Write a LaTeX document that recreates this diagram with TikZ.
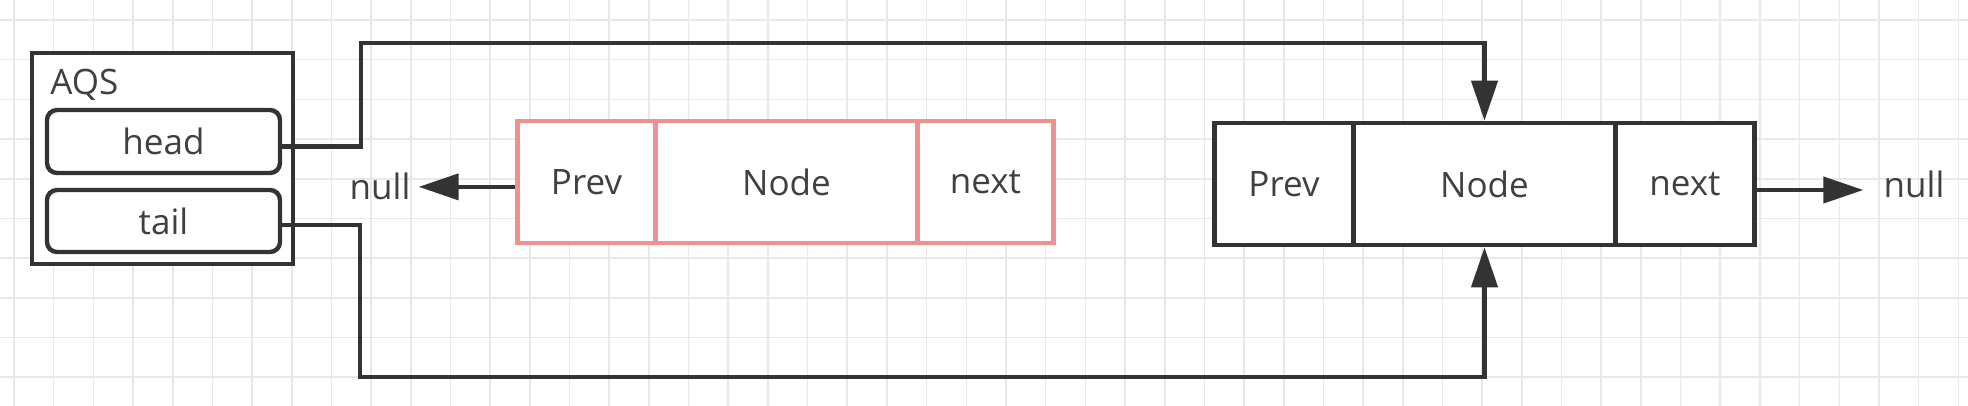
\documentclass[tikz,border=0pt]{standalone}
\usepackage{fontspec}
\setmainfont{Open Sans}
\usetikzlibrary{arrows.meta}
\definecolor{dk}{RGB}{51,51,51}
\definecolor{txt}{RGB}{64,64,64}
\definecolor{rd}{RGB}{240,145,145}
\definecolor{gridc}{RGB}{232,232,232}
\newcommand{\fs}{\fontsize{17.5pt}{20pt}\selectfont}
\tikzset{
  gridline/.style={draw=gridc, line width=0.8pt},
  cellbox/.style={draw=dk, line width=2.3pt, fill=white, minimum height=61pt, inner sep=0pt, text=txt, font=\fs},
  redcell/.style={cellbox, draw=rd},
  aqsbox/.style={draw=dk, line width=2.2pt, fill=white, inner sep=0pt, minimum width=130.5pt, minimum height=105.5pt},
  field/.style={draw=dk, line width=2.2pt, fill=white, rounded corners=5pt, inner sep=0pt, minimum width=116.5pt, text=txt, font=\fs},
  lbl/.style={inner sep=0pt, text=txt, font=\fs},
  conn/.style={draw=dk, line width=2.1pt, -{Triangle[length=20pt,width=13pt]}},
}
\begin{document}
\begin{tikzpicture}[x=0.5pt, y=-0.5pt]
\fill[white] (0,0) rectangle (1968,406);
\useasboundingbox (0,0) rectangle (1968,406);
% grid
\foreach \i in {0,...,49} \draw[gridline] ({14+39.68*\i},0) -- ({14+39.68*\i},406);
\foreach \j in {0,...,9} \draw[gridline] (0,{20+39.68*\j}) -- (1968,{20+39.68*\j});
% AQS
\node[aqsbox] (aqs) at (162.5,158.5) {};
\node[lbl, anchor=base west] (aqslbl) at (50,95) {AQS};
\node[field, minimum height=31.5pt] (head) at (163.5,141.5) {head};
\node[field, minimum height=31pt] (tail) at (163.5,221) {tail};
% red node
\node[redcell, minimum width=69pt] (rprev) at (586.5,182) {Prev};
\node[redcell, minimum width=130.5pt] (rnode) at (786.5,182) {Node};
\node[redcell, minimum width=68pt] (rnext) at (985.5,182) {next};
% black node
\node[cellbox, minimum width=69.5pt] (bprev) at (1284,184) {Prev};
\node[cellbox, minimum width=130.5pt] (bnode) at (1484.5,184) {Node};
\node[cellbox, minimum width=69.5pt] (bnext) at (1685,184) {next};
% nulls
\node[lbl, anchor=base] (nullL) at (380,200) {null};
\node[lbl, anchor=base] (nullR) at (1914,198) {null};
% connectors
\draw[conn] ([yshift=-2.5pt]head.east) -| (361,43) -| (bnode.north);
\draw[conn] ([yshift=-2pt]tail.east) -| (360,377) -| (bnode.south);
\draw[conn, shorten >=4pt] (nullL.east -| rprev.west) -- (nullL.east);
\draw[conn, shorten >=10pt] ([yshift=-3pt]bnext.east) -- ([yshift=-3pt]bnext.east -| nullR.west);
\end{tikzpicture}
\end{document}
